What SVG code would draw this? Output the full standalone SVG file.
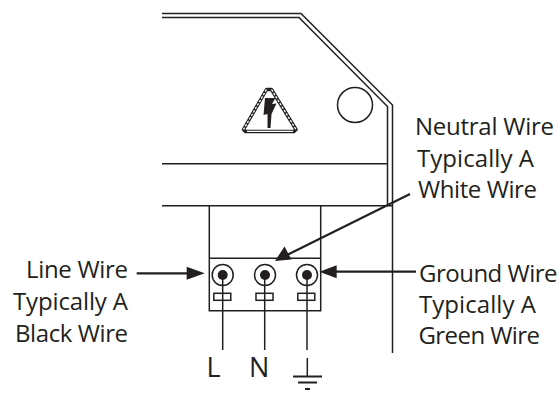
<svg xmlns="http://www.w3.org/2000/svg" width="560" height="394" viewBox="0 0 560 394">
<style>
.l{fill:none;stroke:#231f20;stroke-width:1.5}
.w{fill:none;stroke:#231f20;stroke-width:2.2}
.h{fill:#231f20;stroke:none}
text{font-family:"Open Sans","Noto Sans","Liberation Sans",sans-serif;font-size:24px;fill:#231f20}
.b{font-size:27px}
</style>
<rect width="560" height="394" fill="#fff"/>
<g id="enclosure">
<path class="l" d="M162 13.500H301L392.500 105V353"/>
<path class="l" d="M162 17.500H299L387.500 106.500V205"/>
<path class="l" d="M162 163.700H387.500M162 205.700H392.500"/>
<circle class="l" cx="355" cy="105" r="17.500"/>
</g>
<g id="warning-triangle">
<path d="M266.500 89.500L243.500 129.500L245.500 131.500H294L296 129.500L271.500 89.500Z" fill="none" stroke="#231f20" stroke-width="3.400" stroke-linejoin="round"/>
<path d="M266.500 89.500L243.500 129.500M271.500 89.500L296 129.500" fill="none" stroke="#fff" stroke-width="1.300" stroke-dasharray="2.500 1.500"/>
<path d="M247 131.300H293" fill="none" stroke="#fff" stroke-width="1.300"/>
<path class="h" d="M265 98H275.500L272 104L276.500 103.500L271.500 114L270.500 128H267.500L267.500 114L263.500 115Z"/>
</g>
<g id="terminal-block">
<path class="l" d="M209.300 205.700V310.700H320.700V205.700M209.300 258.300H320.700"/>
</g>
<g id="terminal-L">
<circle class="l" cx="222.700" cy="275" r="10.500"/><circle class="h" cx="222.700" cy="275" r="5"/>
<rect class="l" x="213.800" y="293.300" width="17" height="7"/><path class="l" d="M222.700 275V350"/>
</g>
<g id="terminal-N">
<circle class="l" cx="265" cy="275" r="10.500"/><circle class="h" cx="265" cy="275" r="5"/>
<rect class="l" x="256" y="293.300" width="17" height="7"/><path class="l" d="M264.700 275V350"/>
</g>
<g id="terminal-G">
<circle class="l" cx="307" cy="275" r="10.500"/><circle class="h" cx="307" cy="275" r="5"/>
<rect class="l" x="297.800" y="293.300" width="17" height="7"/><path class="l" d="M307 275V350"/>
</g>
<g id="ground-symbol">
<path class="l" d="M307.300 358V376.500"/>
<path class="w" d="M293 376.500H322M298 382.500H317M305 389H310"/>
</g>
<g id="connectors">
<path class="w" d="M136.700 273.300H190"/><path class="h" d="M204.700 273.300L186.700 266.800V279.800Z"/>
<path class="w" d="M416 271.700H334"/><path class="h" d="M319.300 271.700L336.700 265.200V278.200Z"/>
<path class="w" d="M410 194L288 254.500"/><path class="h" d="M275 261L291.500 259.500L284.500 246.500Z"/>
</g>
<g id="labels">
<text class="b" x="206.500" y="376.500">L</text>
<text class="b" x="249" y="376.500">N</text>
<text x="415" y="135" textLength="139" lengthAdjust="spacing">Neutral Wire</text>
<text x="417" y="167" textLength="117" lengthAdjust="spacing">Typically A</text>
<text x="418" y="198.300" textLength="119" lengthAdjust="spacing">White Wire</text>
<text x="26" y="277.700" textLength="102" lengthAdjust="spacing">Line Wire</text>
<text x="13" y="309.500" textLength="115" lengthAdjust="spacing">Typically A</text>
<text x="15" y="341.700" textLength="113" lengthAdjust="spacing">Black Wire</text>
<text x="419" y="281.700" textLength="138.500" lengthAdjust="spacing">Ground Wire</text>
<text x="419" y="313.300" textLength="117" lengthAdjust="spacing">Typically A</text>
<text x="418.500" y="344.300" textLength="121.500" lengthAdjust="spacing">Green Wire</text>
</g>
</svg>
